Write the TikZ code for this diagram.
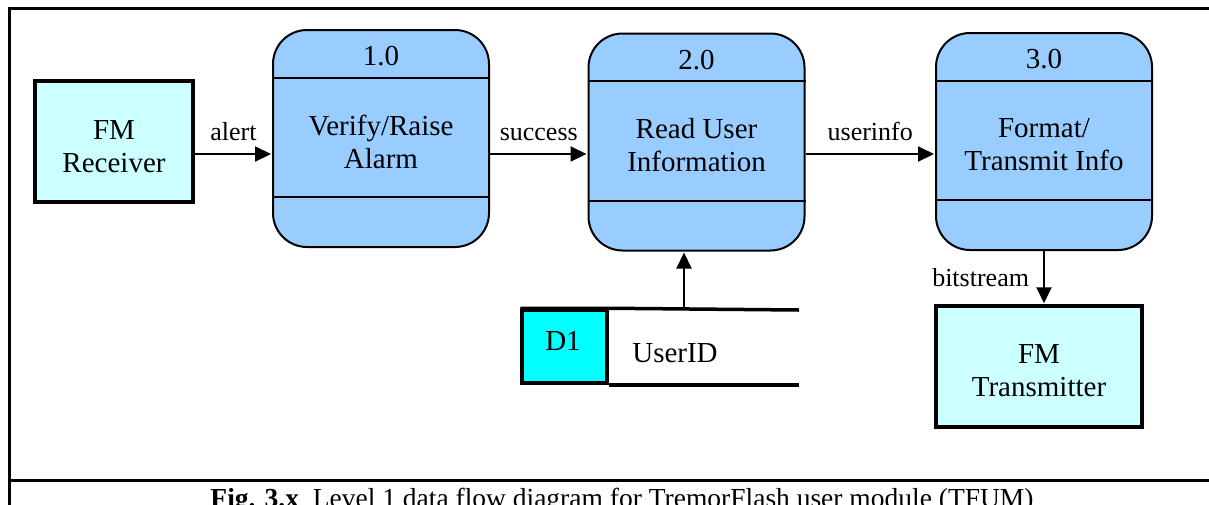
\documentclass[tikz,border=0pt]{standalone}
\usepackage{fontspec}
\setmainfont{Liberation Serif}
\usetikzlibrary{arrows.meta,calc}
\definecolor{procfill}{HTML}{99CCFF}
\definecolor{extfill}{HTML}{CCFFFF}
\definecolor{storefill}{HTML}{00FFFF}
\newcommand\mainsz{\fontsize{29}{33}\selectfont}
\newcommand\lblsz{\fontsize{26}{30}\selectfont}
\newcommand\capsz{\fontsize{27.5}{30}\selectfont}
\begin{document}
\begin{tikzpicture}[x=1pt,y=-1pt,
  proc/.style={draw, line width=2pt, fill=procfill, rounded corners=34pt,
    minimum width=216pt, minimum height=217pt, inner sep=0pt},
  ext/.style={draw, line width=3.5pt, fill=extfill, align=center,
    font=\mainsz, inner sep=0pt},
  ptext/.style={align=center, font=\mainsz, inner sep=0pt},
  flow/.style={line width=2pt, shorten >=1pt, -{Triangle[length=16pt,width=15pt]}},
  lbl/.style={font=\lblsz, inner sep=0pt},
  frame/.style={line width=3pt},
  store/.style={line width=3.5pt}]
\useasboundingbox (0,0) rectangle (1209,504);
\clip (0,0) rectangle (1209,504);
\fill[white] (0,0) rectangle (1209,504);

% outer frame and caption rule
\draw[frame] (9.5,520) -- (9.5,8.5) -- (1220,8.5);
\draw[frame] (9.5,480) -- (1220,480);
\node[anchor=base, font=\capsz, inner sep=0pt] (cap) at (622,507)
  {\textbf{Fig. 3.x}\ \ Level 1 data flow diagram for TremorFlash user module (TFUM)};

% external entities
\coordinate (rxc) at (114,141.5);
\coordinate (txc) at (1039,366.5);
\node[ext, minimum width=158pt, minimum height=121pt] (rx) at (rxc) {};
\node[ext, minimum width=206pt, minimum height=121pt] (tx) at (txc) {};
\node[ptext] (rxtxt) at ($(rx.center)+(0,5)$) {FM\\Receiver};
\node[ptext] (txtxt) at ($(tx.center)+(0,4)$) {FM\\Transmitter};

% processes
\node[proc] (p1) at (381,138.5) {};
\node[proc] (p2) at (696.5,142) {};
\node[proc] (p3) at (1044,141.5) {};
\foreach \p/\num/\txt in {p1/1.0/{Verify/Raise\\Alarm},
                           p2/2.0/{Read User\\Information},
                           p3/3.0/{Format/\\Transmit Info}}{
  \draw[line width=2pt] ($(\p.north west)+(0,48.5)$) -- ($(\p.north east)+(0,48.5)$);
  \draw[line width=2pt] ($(\p.north west)+(0,168)$) -- ($(\p.north east)+(0,168)$);
  \node[ptext] (\p num) at ($(\p.north)+(0,27.5)$) {\num};
  \node[ptext] (\p txt) at ($(\p.center)+(0,3)$) {\txt};
}

% data store
\node[draw, store, fill=storefill, minimum width=85pt, minimum height=73pt,
  inner sep=0pt] (d1) at (564.5,346.5) {};
\node[font=\mainsz, inner sep=0pt] (d1id) at (563,341) {D1};
\coordinate (dsend) at (799,310);
\draw[store] (d1.north west) -- (d1.north east) -- (dsend);
\draw[store] (d1.south east) -- (d1.south east -| dsend);
\node[font=\mainsz, inner sep=0pt] (dsname) at (675,353) {UserID};

% data flows
\coordinate (row) at (0,154);
\coordinate (dsx) at (684,0);
\draw[flow] (rx.east |- row) -- node[lbl, above=12pt] {alert} (p1.west |- row);
\draw[flow] (p1.east |- row) -- node[lbl, above=12pt] {success} (p2.west |- row);
\draw[flow] (p2.east |- row) -- node[lbl, above=12pt] {userinfo} (p3.west |- row);
\draw[flow] (p3.south) -- node[lbl, left=14pt] {bitstream} (p3.south |- tx.north);
\draw[flow] (dsx |- d1.north) -- (dsx |- p2.south);
\end{tikzpicture}
\end{document}
